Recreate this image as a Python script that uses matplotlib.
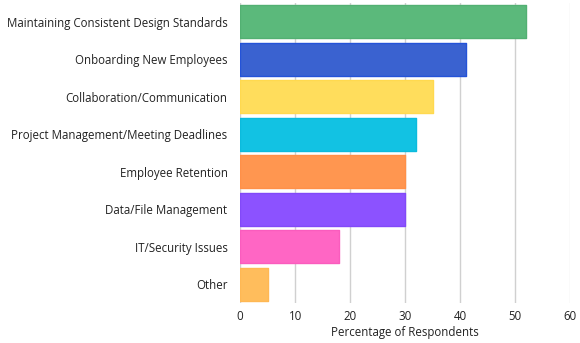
import matplotlib.pyplot as plt
import numpy as np

plt.rcParams['font.family'] = ['Open Sans', 'DejaVu Sans']

categories = [
    "Maintaining Consistent Design Standards",
    "Onboarding New Employees",
    "Collaboration/Communication",
    "Project Management/Meeting Deadlines",
    "Employee Retention",
    "Data/File Management",
    "IT/Security Issues",
    "Other",
]
values = [52, 41, 35, 32, 30, 30, 18, 5]
colors = ["#5BB97B", "#3A62D0", "#FFDD5C", "#12C2E3",
          "#FF9650", "#8C52FF", "#FF66C4", "#FFBD5C"]
edges = ["#52B072", "#2453D8", "#FFD94F", "#0BBBDD",
         "#FF9048", "#8249F8", "#FA5CBE", "#FFB854"]

fig = plt.figure(figsize=(5.8, 3.43), dpi=100)
ax = fig.add_axes([0.414, 0.117, 0.569, 0.875])

y = np.arange(len(categories))
ax.barh(y, values, height=0.88, color=colors, edgecolor=edges,
        linewidth=1.0, joinstyle='round', zorder=3)

ax.set_xlim(0, 60)
ax.set_ylim(len(categories) - 0.5, -0.5)
ax.set_xticks(range(0, 61, 10))
ax.set_yticks(y)
ax.set_yticklabels(categories)
ax.tick_params(axis='both', length=0, labelsize=8.3, colors="#222222")
ax.tick_params(axis='y', pad=9)
ax.tick_params(axis='x', pad=5)
ax.grid(axis='x', color="#d0d0d0", linewidth=1.0, zorder=0)
ax.get_xgridlines()[-1].set_color("#e6e6e6")
for s in ax.spines.values():
    s.set_visible(False)
ax.set_xlabel("Percentage of Respondents", fontsize=8.3, color="#222222", labelpad=2)

fig.savefig("out.png", dpi=100)
